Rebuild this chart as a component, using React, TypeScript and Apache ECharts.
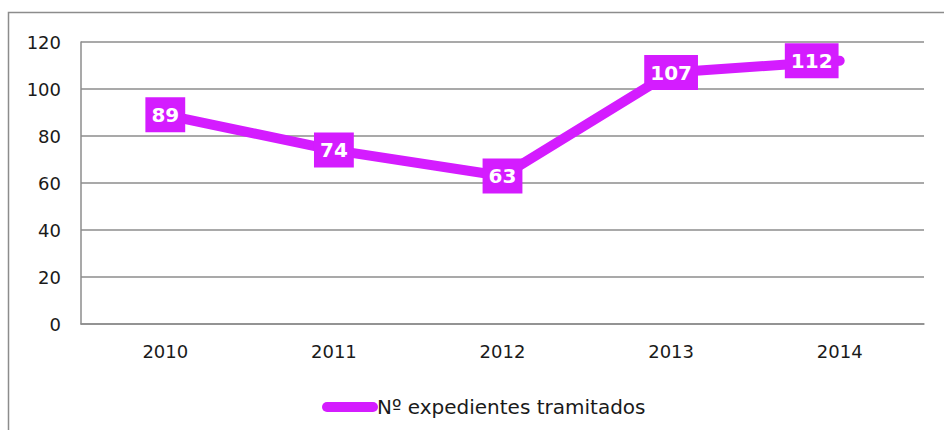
import React, { useEffect, useRef } from "react";
import * as echarts from "echarts";

const years = ["2010", "2011", "2012", "2013", "2014"];
const expedientes = [89, 74, 63, 107, 112];
const seriesName = "Nº expedientes tramitados";
const yTicks = { min: 0, max: 120, interval: 20 };

const purple = "#D41CFF";

export default function App() {
  const ref = useRef<HTMLDivElement>(null);
  useEffect(() => {
    if (!ref.current) return;
    const chart = echarts.init(ref.current, null, { renderer: "svg" });
    const data = expedientes.map((v, i) => ({
      value: v,
      label: i === expedientes.length - 1 ? { offset: [-28, 0] } : {},
    }));
    chart.setOption({
      animation: false,
      backgroundColor: "#ffffff",
      graphic: [
        {
          type: "rect",
          shape: { x: 8.5, y: 12.5, width: 950, height: 440 },
          style: { fill: "none", stroke: "#8c8c8c", lineWidth: 1.5 },
          silent: true,
          z: -1,
        },
      ],
      grid: { left: 81, right: 20, top: 42, bottom: 106, containLabel: false },
      legend: {
        left: 317,
        top: 390,
        itemWidth: 56,
        itemHeight: 10,
        itemGap: 10,
        icon: "path://M5,0 H51 A5,5 0 0 1 51,10 H5 A5,5 0 0 1 5,0 Z",
        textStyle: {
          fontFamily: "DejaVu Sans",
          fontSize: 20,
          lineHeight: 24,
          color: "#1a1a1a",
          padding: [0, 0, 0, -6],
        },
        data: [{ name: seriesName, itemStyle: { color: purple } }],
      },
      xAxis: {
        type: "category",
        data: years,
        boundaryGap: true,
        axisLine: { show: true, lineStyle: { color: "#8c8c8c", width: 1.5 } },
        axisTick: { show: false },
        axisLabel: {
          fontFamily: "DejaVu Sans",
          fontSize: 18,
          color: "#1a1a1a",
          margin: 18,
        },
      },
      yAxis: {
        type: "value",
        min: yTicks.min,
        max: yTicks.max,
        interval: yTicks.interval,
        axisLine: { show: true, lineStyle: { color: "#8c8c8c", width: 1.5 } },
        axisTick: { show: false },
        splitLine: { show: true, lineStyle: { color: "#8c8c8c", width: 1.5 } },
        axisLabel: {
          fontFamily: "DejaVu Sans",
          fontSize: 18,
          color: "#1a1a1a",
          margin: 20,
        },
      },
      series: [
        {
          name: seriesName,
          type: "line",
          data,
          showSymbol: true,
          symbol: "circle",
          symbolSize: 1,
          itemStyle: { color: purple },
          color: purple,
          lineStyle: { color: purple, width: 10, cap: "round", join: "round" },
          label: {
            show: true,
            position: "inside",
            fontFamily: "DejaVu Sans",
            fontWeight: "bold",
            fontSize: 20,
            lineHeight: 22,
            color: "#ffffff",
            backgroundColor: purple,
            padding: [7, 6, 6, 6],
          },
        },
      ],
    });
    return () => chart.dispose();
  }, []);
  return (
    <div
      ref={ref}
      style={{ position: "fixed", left: 0, top: 0, width: 944, height: 430 }}
    />
  );
}
